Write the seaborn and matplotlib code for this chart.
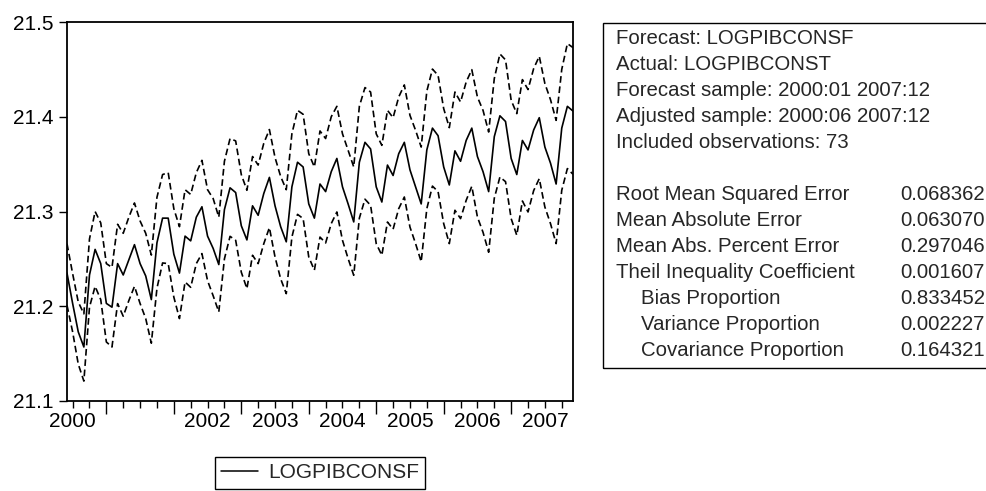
import numpy as np
import pandas as pd
import matplotlib
matplotlib.use("Agg")
import matplotlib.pyplot as plt
import seaborn as sns
from matplotlib.patches import Rectangle
from matplotlib.lines import Line2D

sns.set_theme(style="white")
plt.rcParams['font.family'] = ['Liberation Sans', 'DejaVu Sans']

# ---------------- data (monthly, 2000:06 .. 2007:12) ----------------
start_year, start_month = 2000, 6

forecast = [21.235, 21.203, 21.173, 21.157, 21.233, 21.260, 21.245, 21.203, 21.199, 21.245,
            21.233, 21.249, 21.265, 21.245, 21.232, 21.207, 21.267, 21.293, 21.293, 21.255,
            21.235, 21.274, 21.269, 21.294, 21.305, 21.274, 21.261, 21.244, 21.302, 21.325,
            21.320, 21.285, 21.270, 21.306, 21.296, 21.319, 21.336, 21.306, 21.284, 21.268,
            21.326, 21.352, 21.347, 21.308, 21.293, 21.329, 21.321, 21.342, 21.356, 21.326,
            21.308, 21.289, 21.352, 21.373, 21.366, 21.326, 21.310, 21.349, 21.338, 21.361,
            21.373, 21.344, 21.326, 21.308, 21.365, 21.388, 21.380, 21.347, 21.328, 21.364,
            21.353, 21.375, 21.388, 21.358, 21.342, 21.321, 21.379, 21.401, 21.395, 21.356,
            21.339, 21.375, 21.365, 21.386, 21.399, 21.368, 21.351, 21.329, 21.388, 21.411,
            21.406]

upper = [21.266, 21.2345, 21.2045, 21.192, 21.271, 21.300, 21.288, 21.245, 21.241, 21.2865,
         21.277, 21.294, 21.309, 21.290, 21.277, 21.254, 21.315, 21.339, 21.341, 21.303,
         21.284, 21.323, 21.318, 21.341, 21.354, 21.323, 21.3136, 21.294, 21.353, 21.377,
         21.3745, 21.339, 21.3224, 21.358, 21.349, 21.372, 21.3865, 21.357, 21.337, 21.323,
         21.382, 21.4068, 21.4026, 21.361, 21.347, 21.385, 21.377, 21.400, 21.411, 21.382,
         21.3646, 21.347, 21.411, 21.4308, 21.4261, 21.382, 21.3698, 21.4068, 21.399, 21.4208,
         21.4336, 21.4015, 21.3857, 21.368, 21.427, 21.4503, 21.4437, 21.4086, 21.3885, 21.4261,
         21.4156, 21.4367, 21.4497, 21.4208, 21.4067, 21.3839, 21.4403, 21.4663, 21.460, 21.4174,
         21.4033, 21.4392, 21.4287, 21.4508, 21.4638, 21.435, 21.418, 21.3962, 21.450, 21.4772,
         21.473]

lower = [21.201, 21.173, 21.139, 21.121, 21.199, 21.221, 21.207, 21.1623, 21.157, 21.2028,
         21.1895, 21.206, 21.221, 21.2029, 21.187, 21.161, 21.219, 21.2457, 21.245, 21.2097,
         21.187, 21.2256, 21.220, 21.245, 21.2556, 21.227, 21.211, 21.194, 21.250, 21.2738,
         21.2696, 21.236, 21.2186, 21.2538, 21.245, 21.266, 21.283, 21.252, 21.229, 21.2133,
         21.273, 21.297, 21.2925, 21.252, 21.238, 21.273, 21.2668, 21.2872, 21.2995, 21.2696,
         21.2503, 21.2327, 21.293, 21.313, 21.3065, 21.2661, 21.2538, 21.2889, 21.2813, 21.303,
         21.3153, 21.2836, 21.2661, 21.247, 21.303, 21.3268, 21.321, 21.2872, 21.2661, 21.3013,
         21.2925, 21.3118, 21.3266, 21.2942, 21.278, 21.257, 21.314, 21.3364, 21.3315, 21.2925,
         21.2749, 21.3111, 21.2995, 21.322, 21.3347, 21.3047, 21.2872, 21.2661, 21.3224, 21.3453,
         21.3393]

years = [2000, 2001, 2002, 2003, 2004, 2005, 2006, 2007]
year_labels = ["2000", "", "2002", "2003", "2004", "2005", "2006", "2007"]
y_ticks = [21.1, 21.2, 21.3, 21.4, 21.5]

info_lines = ["Forecast: LOGPIBCONSF",
              "Actual: LOGPIBCONST",
              "Forecast sample: 2000:01 2007:12",
              "Adjusted sample: 2000:06 2007:12",
              "Included observations: 73"]
stat_names = ["Root Mean Squared Error", "Mean Absolute Error", "Mean Abs. Percent Error",
              "Theil Inequality Coefficient", "Bias Proportion", "Variance Proportion",
              "Covariance Proportion"]
stat_values = ["0.068362", "0.063070", "0.297046", "0.001607", "0.833452", "0.002227", "0.164321"]
stat_indent = [False, False, False, False, True, True, True]

# ---------------- figure ----------------
W, H = 986, 491
fig = plt.figure(figsize=(W / 100, H / 100), dpi=100)
fig.patch.set_facecolor("white")

def fx(px):
    return px / W

def fy(py):
    return 1 - py / H

FS_TICK = 15
FS_BOX = 14.7
FS_LEG = 15

ax_l, ax_r, ax_t, ax_b = 67, 573, 22, 401
ax = fig.add_axes([fx(ax_l), fy(ax_b), fx(ax_r - ax_l), (ax_b - ax_t) / H])

t = np.arange(len(forecast))
df = pd.DataFrame({"t": t, "LOGPIBCONSF": forecast, "upper": upper, "lower": lower})

sns.lineplot(data=df, x="t", y="LOGPIBCONSF", ax=ax, color="black", lw=1.2, legend=False)
sns.lineplot(data=df, x="t", y="upper", ax=ax, color="black", lw=1.2, legend=False,
             linestyle=(0, (4.0, 2.2)))
sns.lineplot(data=df, x="t", y="lower", ax=ax, color="black", lw=1.2, legend=False,
             linestyle=(0, (4.0, 2.2)))

ax.set_xlim(0, len(forecast) - 1)
ax.set_ylim(y_ticks[0], y_ticks[-1])
ax.set_xlabel("")
ax.set_ylabel("")

def idx(y, m):
    return (y - start_year) * 12 + (m - start_month)

n = len(forecast)
major = [idx(y, 1) for y in years if 0 <= idx(y, 1) <= n - 1]
minor, minor_lab = [], []
for y, lab in zip(years, year_labels):
    for m in (4, 7, 10):
        p = idx(y, m)
        if 0 <= p <= n - 1:
            minor.append(p)
            minor_lab.append(lab if m == 7 else "")

ax.set_xticks(major)
ax.set_xticklabels([""] * len(major))
ax.set_xticks(minor, minor=True)
ax.set_xticklabels(minor_lab, minor=True)
ax.set_yticks(y_ticks)
ax.set_yticklabels([f"{v:.1f}" for v in y_ticks])

ax.tick_params(axis="x", which="major", bottom=True, length=9, width=1.0, direction="out",
               color="black")
ax.tick_params(axis="x", which="minor", bottom=True, length=5, width=1.0, direction="out",
               color="black", labelsize=FS_TICK, pad=3, labelcolor="black")
ax.tick_params(axis="y", which="major", left=True, length=6, width=1.0, direction="out",
               color="black", labelsize=FS_TICK, pad=4, labelcolor="black")

for s in ax.spines.values():
    s.set_color("black")
    s.set_linewidth(1.3)
ax.grid(False)

# legend (centred under the plot)
h = Line2D([], [], color="black", lw=1.1)
leg = fig.legend([h], ["LOGPIBCONSF"], loc="center",
                 bbox_to_anchor=(fx((ax_l + ax_r) / 2), fy(473)),
                 frameon=True, fancybox=False, edgecolor="black", fontsize=FS_LEG,
                 handlelength=1.75, handletextpad=0.5, borderpad=0.3, framealpha=1)
leg.get_frame().set_linewidth(1.0)

# statistics box
y0, dy = 38.5, 26
box_top = 23
box_bot = y0 + 12 * dy + 17
box = Rectangle((fx(603), fy(box_bot)), 1 - fx(603) + 0.01, (box_bot - box_top) / H,
                transform=fig.transFigure, fill=False, edgecolor="black", lw=1.0,
                clip_on=False)
fig.patches.append(box)

for k, line in enumerate(info_lines):
    fig.text(fx(616), fy(y0 + k * dy), line, fontsize=FS_BOX, va="center", ha="left")
for k, (name, val, ind) in enumerate(zip(stat_names, stat_values, stat_indent)):
    yy = fy(y0 + (k + 6) * dy)
    fig.text(fx(641 if ind else 616), yy, name, fontsize=FS_BOX, va="center", ha="left")
    fig.text(fx(900), yy, val, fontsize=FS_BOX, va="center", ha="left")

fig.savefig("out.png", dpi=100)
